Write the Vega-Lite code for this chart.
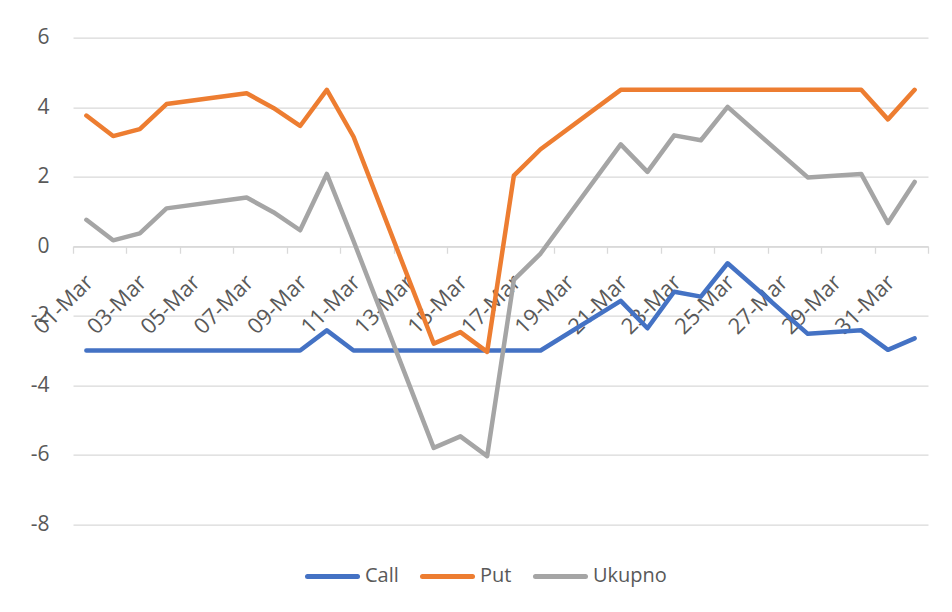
{
  "$schema": "https://vega.github.io/schema/vega-lite/v6.json",
  "width": 855,
  "height": 486.6,
  "autosize": "none",
  "padding": {"left": 73, "top": 37.7, "right": 24, "bottom": 88},
  "background": "white",
  "config": {
    "view": {"stroke": null},
    "font": "Open Sans",
    "axis": {"labelFont": "Open Sans", "labelColor": "#595959", "labelFontSize": 21, "title": null},
    "legend": {"labelFont": "Open Sans", "labelColor": "#595959", "labelFontSize": 20}
  },
  "data": {
    "values": [
      {"date": "2022-03-01", "series": "Call", "value": -3},
      {"date": "2022-03-02", "series": "Call", "value": -3},
      {"date": "2022-03-03", "series": "Call", "value": -3},
      {"date": "2022-03-04", "series": "Call", "value": -3},
      {"date": "2022-03-07", "series": "Call", "value": -3},
      {"date": "2022-03-08", "series": "Call", "value": -3},
      {"date": "2022-03-09", "series": "Call", "value": -3},
      {"date": "2022-03-10", "series": "Call", "value": -2.42},
      {"date": "2022-03-11", "series": "Call", "value": -3},
      {"date": "2022-03-14", "series": "Call", "value": -3},
      {"date": "2022-03-15", "series": "Call", "value": -3},
      {"date": "2022-03-16", "series": "Call", "value": -3},
      {"date": "2022-03-17", "series": "Call", "value": -3},
      {"date": "2022-03-18", "series": "Call", "value": -3},
      {"date": "2022-03-21", "series": "Call", "value": -1.57},
      {"date": "2022-03-22", "series": "Call", "value": -2.36},
      {"date": "2022-03-23", "series": "Call", "value": -1.31},
      {"date": "2022-03-24", "series": "Call", "value": -1.45},
      {"date": "2022-03-25", "series": "Call", "value": -0.49},
      {"date": "2022-03-28", "series": "Call", "value": -2.52},
      {"date": "2022-03-29", "series": "Call", "value": -2.47},
      {"date": "2022-03-30", "series": "Call", "value": -2.42},
      {"date": "2022-03-31", "series": "Call", "value": -2.98},
      {"date": "2022-04-01", "series": "Call", "value": -2.65},
      {"date": "2022-03-01", "series": "Put", "value": 3.76},
      {"date": "2022-03-02", "series": "Put", "value": 3.17},
      {"date": "2022-03-03", "series": "Put", "value": 3.37},
      {"date": "2022-03-04", "series": "Put", "value": 4.09},
      {"date": "2022-03-07", "series": "Put", "value": 4.4},
      {"date": "2022-03-08", "series": "Put", "value": 3.98},
      {"date": "2022-03-09", "series": "Put", "value": 3.46},
      {"date": "2022-03-10", "series": "Put", "value": 4.5},
      {"date": "2022-03-11", "series": "Put", "value": 3.15},
      {"date": "2022-03-14", "series": "Put", "value": -2.8},
      {"date": "2022-03-15", "series": "Put", "value": -2.47},
      {"date": "2022-03-16", "series": "Put", "value": -3.04},
      {"date": "2022-03-17", "series": "Put", "value": 2.03},
      {"date": "2022-03-18", "series": "Put", "value": 2.79},
      {"date": "2022-03-21", "series": "Put", "value": 4.5},
      {"date": "2022-03-22", "series": "Put", "value": 4.5},
      {"date": "2022-03-23", "series": "Put", "value": 4.5},
      {"date": "2022-03-24", "series": "Put", "value": 4.5},
      {"date": "2022-03-25", "series": "Put", "value": 4.5},
      {"date": "2022-03-28", "series": "Put", "value": 4.5},
      {"date": "2022-03-29", "series": "Put", "value": 4.5},
      {"date": "2022-03-30", "series": "Put", "value": 4.5},
      {"date": "2022-03-31", "series": "Put", "value": 3.65},
      {"date": "2022-04-01", "series": "Put", "value": 4.5},
      {"date": "2022-03-01", "series": "Ukupno", "value": 0.76},
      {"date": "2022-03-02", "series": "Ukupno", "value": 0.17},
      {"date": "2022-03-03", "series": "Ukupno", "value": 0.37},
      {"date": "2022-03-04", "series": "Ukupno", "value": 1.09},
      {"date": "2022-03-07", "series": "Ukupno", "value": 1.4},
      {"date": "2022-03-08", "series": "Ukupno", "value": 0.98},
      {"date": "2022-03-09", "series": "Ukupno", "value": 0.46},
      {"date": "2022-03-10", "series": "Ukupno", "value": 2.08},
      {"date": "2022-03-11", "series": "Ukupno", "value": 0.15},
      {"date": "2022-03-14", "series": "Ukupno", "value": -5.8},
      {"date": "2022-03-15", "series": "Ukupno", "value": -5.47},
      {"date": "2022-03-16", "series": "Ukupno", "value": -6.04},
      {"date": "2022-03-17", "series": "Ukupno", "value": -0.97},
      {"date": "2022-03-18", "series": "Ukupno", "value": -0.21},
      {"date": "2022-03-21", "series": "Ukupno", "value": 2.93},
      {"date": "2022-03-22", "series": "Ukupno", "value": 2.14},
      {"date": "2022-03-23", "series": "Ukupno", "value": 3.19},
      {"date": "2022-03-24", "series": "Ukupno", "value": 3.05},
      {"date": "2022-03-25", "series": "Ukupno", "value": 4.01},
      {"date": "2022-03-28", "series": "Ukupno", "value": 1.98},
      {"date": "2022-03-29", "series": "Ukupno", "value": 2.03},
      {"date": "2022-03-30", "series": "Ukupno", "value": 2.08},
      {"date": "2022-03-31", "series": "Ukupno", "value": 0.67},
      {"date": "2022-04-01", "series": "Ukupno", "value": 1.85}
    ]
  },
  "mark": {"type": "line", "strokeWidth": 4.5, "strokeCap": "round", "strokeJoin": "round"},
  "encoding": {
    "x": {
      "field": "date",
      "type": "temporal",
      "scale": {
        "type": "utc",
        "nice": false,
        "domain": [
          {"year": 2022, "month": 2, "date": 28, "hours": 12, "utc": true},
          {"year": 2022, "month": 4, "date": 1, "hours": 12, "utc": true}
        ]
      },
      "axis": {
        "values": [
          {"year": 2022, "month": 2, "date": 28, "hours": 12, "utc": true},
          {"year": 2022, "month": 3, "date": 2, "hours": 12, "utc": true},
          {"year": 2022, "month": 3, "date": 4, "hours": 12, "utc": true},
          {"year": 2022, "month": 3, "date": 6, "hours": 12, "utc": true},
          {"year": 2022, "month": 3, "date": 8, "hours": 12, "utc": true},
          {"year": 2022, "month": 3, "date": 10, "hours": 12, "utc": true},
          {"year": 2022, "month": 3, "date": 12, "hours": 12, "utc": true},
          {"year": 2022, "month": 3, "date": 14, "hours": 12, "utc": true},
          {"year": 2022, "month": 3, "date": 16, "hours": 12, "utc": true},
          {"year": 2022, "month": 3, "date": 18, "hours": 12, "utc": true},
          {"year": 2022, "month": 3, "date": 20, "hours": 12, "utc": true},
          {"year": 2022, "month": 3, "date": 22, "hours": 12, "utc": true},
          {"year": 2022, "month": 3, "date": 24, "hours": 12, "utc": true},
          {"year": 2022, "month": 3, "date": 26, "hours": 12, "utc": true},
          {"year": 2022, "month": 3, "date": 28, "hours": 12, "utc": true},
          {"year": 2022, "month": 3, "date": 30, "hours": 12, "utc": true},
          {"year": 2022, "month": 4, "date": 1, "hours": 12, "utc": true}
        ],
        "labelExpr": "time(datum.value) > 1648800000000 ? '' : utcFormat(time(datum.value) + 43200000, '%d-%b')",
        "labelFontSize": 22,
        "labelOffset": 9,
        "labelAngle": -45,
        "labelAlign": "right",
        "labelBaseline": "top",
        "labelPadding": 18,
        "labelOverlap": false,
        "labelBound": false,
        "labelFlush": false,
        "offset": -278.06,
        "grid": false,
        "tickSize": 7,
        "tickColor": "#d9d9d9",
        "tickWidth": 1.3,
        "domainColor": "#d9d9d9",
        "domainWidth": 1.3
      }
    },
    "y": {
      "field": "value",
      "type": "quantitative",
      "scale": {"domain": [-8, 6], "nice": false, "zero": false},
      "axis": {
        "values": [-8, -6, -4, -2, 0, 2, 4, 6],
        "labelExpr": "datum.value < 0 ? '-' + abs(datum.value) : '' + datum.value",
        "domain": false,
        "ticks": false,
        "labelPadding": 24,
        "gridColor": "#d9d9d9",
        "gridWidth": 1.3
      }
    },
    "color": {
      "field": "series",
      "type": "nominal",
      "scale": {"domain": ["Call", "Put", "Ukupno"], "range": ["#4472C4", "#ED7D31", "#A5A5A5"]},
      "legend": {
        "title": null,
        "orient": "none",
        "legendX": 232,
        "legendY": 511,
        "direction": "horizontal",
        "symbolType": "stroke",
        "symbolSize": 2500,
        "symbolStrokeWidth": 5,
        "labelOffset": 5,
        "columnPadding": 13,
        "encode": {"symbols": {"update": {"strokeCap": {"value": "round"}}}}
      }
    }
  }
}
